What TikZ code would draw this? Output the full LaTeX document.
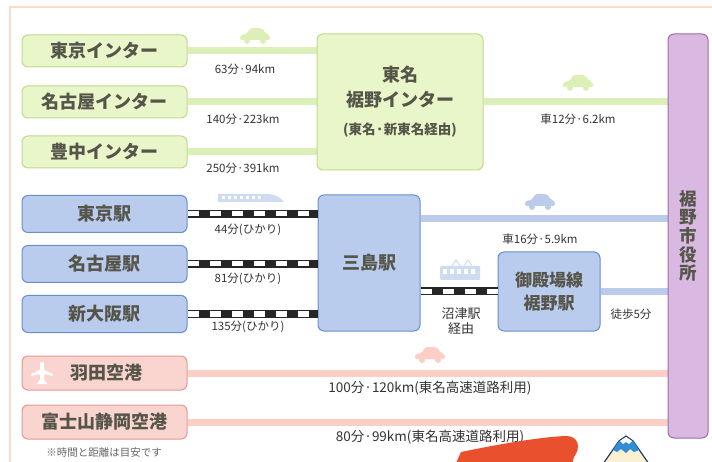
\documentclass[tikz,border=0pt]{standalone}
\usepackage{fontspec}
\setmainfont{Noto Sans CJK JP}
\usetikzlibrary{positioning, calc, backgrounds}

\definecolor{framecol}{HTML}{FADCC8}
\definecolor{boxtext}{HTML}{55554A}
\definecolor{labeltext}{HTML}{333333}
\definecolor{icfill}{HTML}{E9F6C9}
\definecolor{icedge}{HTML}{BCD98C}
\definecolor{icroadcol}{HTML}{DCEFB6}
\definecolor{stafill}{HTML}{BACCEE}
\definecolor{staedge}{HTML}{6A8ECB}
\definecolor{staroadcol}{HTML}{BBCBEB}
\definecolor{airfill}{HTML}{FAD4CF}
\definecolor{airedge}{HTML}{E39893}
\definecolor{airroadcol}{HTML}{FBCFC6}
\definecolor{hallfill}{HTML}{D9B9E2}
\definecolor{halledge}{HTML}{9C6DA8}
\definecolor{bannercol}{HTML}{E8502E}
\definecolor{fujiface}{HTML}{FBF0CF}
\definecolor{fujicap}{HTML}{2F8ED6}
\definecolor{fujiline}{HTML}{1F3C6E}

\tikzset{
  box/.style={draw, rounded corners=6pt, line width=1pt, text=boxtext, inner sep=0pt,
    font=\fontsize{18}{20}\selectfont\bfseries},
  icbox/.style={box, fill=icfill, draw=icedge, minimum width=165pt, minimum height=32pt},
  stabox/.style={box, fill=stafill, draw=staedge, minimum width=165pt, minimum height=37pt},
  airbox/.style={box, fill=airfill, draw=airedge, minimum width=165pt, minimum height=34pt},
  icroad/.style={draw=icroadcol, line width=7pt},
  staroad/.style={draw=staroadcol, line width=7pt},
  airroad/.style={draw=airroadcol, line width=7pt},
  track/.style={draw=black!85, line width=8pt,
    postaction={draw=white, line width=5pt, dash pattern=on 11pt off 11pt}},
  time/.style={text=labeltext, inner sep=1pt, font=\fontsize{11.5}{14}\selectfont},
  note/.style={text=black!60, inner sep=1pt, font=\fontsize{10.5}{12}\selectfont},
  % small icons over the roads
  car/.pic={
    \fill[rounded corners=2pt] (-15,0) -- (-15,-5) -- (-8,-6) -- (-5,-12) -- (7,-12)
      -- (11,-6) -- (15,-5) -- (15,0) -- cycle;
    \fill (-8,1) circle (3); \fill (8,1) circle (3);
  },
  bullettrain/.pic={
    \fill (-30,3) -- (-30,-5) -- (18,-5) .. controls (28,-5) and (33,-1) .. (36,3) -- cycle;
    \foreach \i in {-26,-20,...,10} \fill[white] (\i,-3) rectangle ++(3,3);
  },
  localtrain/.pic={
    \fill[rounded corners=1pt] (-20,-9) rectangle (20,5);
    \foreach \i in {-17,-10,...,13} \fill[white] (\i,-6) rectangle ++(4,5);
    \draw[line width=1pt] (-8,-9) -- (-4,-15) -- (0,-9) (4,-9) -- (8,-15) -- (12,-9);
  },
  plane/.pic={
    \fill[rounded corners=1pt] (-2,-11) -- (2,-11) -- (2,-3) -- (11,1) -- (11,3) -- (2,1)
      -- (2,7) -- (5,10) -- (5,11) -- (-5,11) -- (-5,10) -- (-2,7) -- (-2,1) -- (-11,3)
      -- (-11,1) -- (-2,-3) -- cycle;
  },
}

\begin{document}
\begin{tikzpicture}[x=1pt, y=-1pt]
\useasboundingbox (0,0) rectangle (712,462);

% expressway interchanges
\node (tokyoIC) [icbox] at (104.5,51) {東京インター};
\node (nagoyaIC) [icbox, below=18pt of tokyoIC] {名古屋インター};
\node (toyonakaIC) [icbox, below=17pt of nagoyaIC] {豊中インター};
\node (susonoIC) [icbox, minimum width=166pt, minimum height=136pt, align=center,
  font=\fontsize{18}{25}\selectfont\bfseries] at (400,102)
  {東名\\裾野インター\\[3pt]{\fontsize{13.5}{15}\selectfont (東名·新東名経由)}};

% city hall
\node (cityhall) [box, fill=hallfill, draw=halledge, minimum width=40pt, minimum height=404pt,
  align=center, font=\fontsize{17.5}{18.6}\selectfont\bfseries] at (688,236) {裾\\野\\市\\役\\所};

% railway stations
\node (tokyoSta) [stabox] at (104.5,214) {東京駅};
\node (nagoyaSta) [stabox, below=12pt of tokyoSta] {名古屋駅};
\node (osakaSta) [stabox, below=12pt of nagoyaSta] {新大阪駅};
\node (mishima) [stabox, minimum width=102pt, minimum height=136pt] at (369,263) {三島駅};
\node (gotemba) [stabox, minimum width=102pt, minimum height=79pt, align=center,
  font=\fontsize{17}{23}\selectfont\bfseries] at (549,291.5) {御殿場線\\裾野駅};

% airports
\node (haneda) [airbox] at (104.5,373) {\hspace{4pt}羽田空港};
\node (shizuoka) [airbox, below=14pt of haneda] {富士山静岡空港};
\pic[white] at (42,373) {plane};

\coordinate (mishimaOut) at ($(mishima.north east)+(0,24)$);

\begin{scope}[on background layer]
  \draw[framecol, line width=2pt] (10,7) rectangle (760,520);
  % roads by car
  \draw[icroad] (tokyoIC.east) -- (tokyoIC.east -| susonoIC.west);
  \draw[icroad] (nagoyaIC.east) -- (nagoyaIC.east -| susonoIC.west);
  \draw[icroad] (toyonakaIC.east) -- (toyonakaIC.east -| susonoIC.west);
  \draw[icroad] (susonoIC.east) -- (susonoIC.east -| cityhall.west);
  \draw[staroad] (mishimaOut) -- (mishimaOut -| cityhall.west);
  \draw[staroad] (gotemba.east) -- (gotemba.east -| cityhall.west);
  \draw[airroad] (haneda.east) -- (haneda.east -| cityhall.west);
  \draw[airroad] (shizuoka.east) -- (shizuoka.east -| cityhall.west);
\end{scope}

% rail lines
\draw[track] (tokyoSta.east) -- (tokyoSta.east -| mishima.west);
\draw[track] (nagoyaSta.east) -- (nagoyaSta.east -| mishima.west);
\draw[track] (osakaSta.east) -- (osakaSta.east -| mishima.west);
\draw[track] (gotemba.west -| mishima.east) -- (gotemba.west);

% icons
\pic[icroadcol] at (255,40) {car};
\pic[icroadcol] at (578,87) {car};
\pic[staroadcol] at (540,206) {car};
\pic[airroadcol] at (430,359) {car};
\pic[staroadcol!70] at (248,199) {bullettrain};
\pic[staroadcol!70] at (460,275) {localtrain};

% times and distances
\node[time] (tTokyoIC) at (245,69) {63分·94km};
\node[time] (tNagoyaIC) at (243,119) {140分·223km};
\node[time] (tToyonakaIC) at (243,168) {250分·391km};
\node[time] (tSusonoIC) at (578,119) {車12分·6.2km};
\node[time] (tTokyoSta) at (248,230) {44分(ひかり)};
\node[time] (tNagoyaSta) at (248,279) {81分(ひかり)};
\node[time] (tOsakaSta) at (248,327) {135分(ひかり)};
\node[time] (tMishima) at (540,239) {車16分·5.9km};
\node[time, align=center, font=\fontsize{13}{15}\selectfont] (tNumazu) at (461,321) {沼津駅\\経由};
\node[time] (tGotemba) at (631,314) {徒歩5分};
\node[time, font=\fontsize{13.5}{15}\selectfont] (tHaneda) at (430,388) {100分·120km(東名高速道路利用)};
\node[time, font=\fontsize{13.5}{15}\selectfont] (tShizuoka) at (430,437) {80分·99km(東名高速道路利用)};
\node[note] (footnote) at (104,453) {※時間と距離は目安です};

% mascot at the foot
\fill[bannercol] (452,472) -- (461,452) .. controls (500,444) and (540,437) .. (566,436)
  .. controls (579,436) and (581,448) .. (574,457) -- (570,472) -- cycle;
\filldraw[fill=fujiface, draw=fujiline, line width=1.2pt] (596,474) -- (612,451) -- (619,441)
  -- (626,436) -- (633,441) -- (640,451) -- (656,474);
\fill[fujicap] (613,450) -- (619,441) -- (633,441) -- (639,450) -- (634,452) -- (630,449)
  -- (626,453) -- (621,449) -- (617,452) -- cycle;
\fill[white] (620,441) -- (626,437) -- (632,441) -- (629,444) -- (626,442) -- (623,444) -- cycle;
\end{tikzpicture}
\end{document}
